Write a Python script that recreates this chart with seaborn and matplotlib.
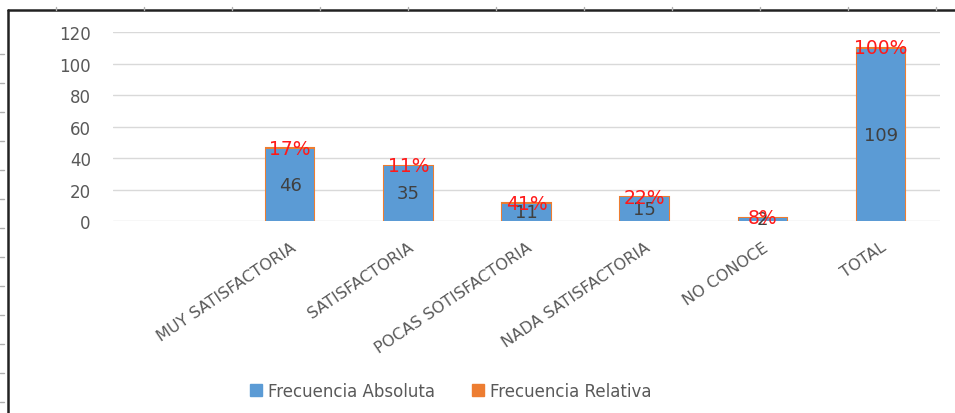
import numpy as np
import pandas as pd
import matplotlib
matplotlib.use("Agg")
import matplotlib.pyplot as plt
import seaborn as sns
from matplotlib.lines import Line2D
from matplotlib.patches import Patch

# datos (la primera categoria esta vacia)
categorias = ["", "MUY SATISFACTORIA", "SATISFACTORIA", "POCAS SOTISFACTORIA",
              "NADA SATISFACTORIA", "NO CONOCE", "TOTAL"]
frec_absoluta = [np.nan, 46, 35, 11, 15, 2, 109]
frec_relativa = [np.nan, 0.17, 0.11, 0.41, 0.22, 0.08, 1.00]
yticks = [0, 20, 40, 60, 80, 100, 120]

AZUL = "#5B9BD5"
NARANJA = "#ED7D31"
GRIS = "#595959"

sns.set_style("white")
plt.rcParams["font.family"] = ["DejaVu Sans"]

df = pd.DataFrame({"cat": categorias, "abs": frec_absoluta, "rel": frec_relativa})
df["total"] = df["abs"] + df["rel"]

fig = plt.figure(figsize=(9.55, 4.14), dpi=100)
ax = fig.add_axes([113/955, 1 - 222/414, 827/955, 189/414])

# barra apilada: total en naranja detras, absoluta en azul delante
sns.barplot(data=df, x="cat", y="total", order=categorias, color=NARANJA,
            saturation=1, width=0.41, errorbar=None, edgecolor=NARANJA,
            linewidth=1.5, ax=ax)
sns.barplot(data=df, x="cat", y="abs", order=categorias, color=AZUL,
            saturation=1, width=0.41, errorbar=None, linewidth=0, ax=ax)

for i, (a, r) in enumerate(zip(frec_absoluta, frec_relativa)):
    if np.isnan(a):
        continue
    ax.text(i, a / 2, f"{a:g}", ha="center", va="center", fontsize=13, color="#404040")
    ax.text(i, a + r, f"{r:.0%}", ha="center", va="center", fontsize=13.5, color="#FF1A1A")

ax.set_ylim(0, 120)
ax.set_yticks(yticks)
ax.set_xlabel("")
ax.set_ylabel("")
ax.grid(axis="y", color="#d9d9d9", linewidth=1)
ax.set_axisbelow(True)
sns.despine(ax=ax, left=True, bottom=True)
ax.tick_params(axis="y", length=0, pad=16, labelsize=12, labelcolor=GRIS)
ax.tick_params(axis="x", length=0, pad=13, labelsize=11.5, labelcolor=GRIS)
for lab in ax.get_xticklabels():
    lab.set_rotation(34)
    lab.set_ha("right")
    lab.set_va("top")
    lab.set_rotation_mode("anchor")

handles = [Patch(color=AZUL, label="Frecuencia Absoluta"),
           Patch(color=NARANJA, label="Frecuencia Relativa")]
fig.legend(handles=handles, loc="center", bbox_to_anchor=(451/955, 1 - 392/414),
           ncol=2, frameon=False, handlelength=0.7, handleheight=0.7,
           handletextpad=0.4, columnspacing=2.2, fontsize=12, labelcolor=GRIS)

# marco del documento
fig.add_artist(Line2D([8/955, 8/955], [0, 1 - 11/414], color="#222222", lw=1.8))
fig.add_artist(Line2D([8/955, 1], [1 - 11/414, 1 - 11/414], color="#222222", lw=1.8))
for x in range(56, 955, 88):
    fig.add_artist(Line2D([x/955, x/955], [1 - 8/414, 1 - 11/414], color="#b0b0b0", lw=1))
for y in range(55, 414, 29):
    fig.add_artist(Line2D([0, 4/955], [1 - y/414, 1 - y/414], color="#b0b0b0", lw=1))

fig.savefig("out.png", dpi=100)
